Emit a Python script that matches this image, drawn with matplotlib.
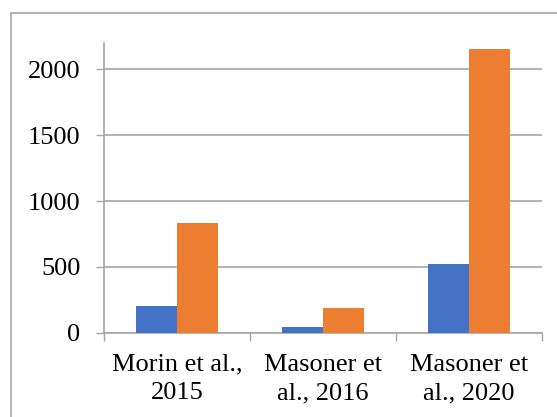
import matplotlib
matplotlib.use("Agg")
import matplotlib.pyplot as plt
from matplotlib.patches import Rectangle
import numpy as np

plt.rcParams['font.family'] = ['Liberation Serif', 'DejaVu Serif']

# Data
studies = ["Morin et al.,\n2015", "Masoner et\nal., 2016", "Masoner et\nal., 2020"]
series_blue = [203, 46, 518]
series_orange = [835, 190, 2153]

blue = "#4472C4"
orange = "#ED7D31"
grey = "#A6A6A6"

fig = plt.figure(figsize=(5.57, 4.17), dpi=100)
ax = fig.add_axes([0.1867, 0.2022, 0.973 - 0.1867, 0.8969 - 0.2022])

x = np.arange(len(studies))
w = 0.284
ax.bar(x - w / 2, series_blue, width=w, color=blue, zorder=3)
ax.bar(x + w / 2, series_orange, width=w, color=orange, zorder=3)

ax.set_xlim(-0.5, len(studies) - 0.5)
ax.set_ylim(0, 2200)
ax.set_yticks([0, 500, 1000, 1500, 2000])
ax.yaxis.grid(True, color=grey, linewidth=1.2, zorder=0)

ax.set_xticks(x)
ax.set_xticklabels(studies, fontsize=19, linespacing=1.38)
ax.set_xticks(np.arange(len(studies) + 1) - 0.5, minor=True)
ax.tick_params(axis='x', which='major', length=0, pad=15)
ax.tick_params(axis='x', which='minor', length=5.5, width=1, color=grey)
ax.tick_params(axis='y', length=5.5, width=1, color=grey, pad=11.5, labelsize=19)

for side in ['top', 'right']:
    ax.spines[side].set_visible(False)
for side in ['left', 'bottom']:
    ax.spines[side].set_color(grey)
    ax.spines[side].set_linewidth(1.2)

# chart area border (cropped on the right and bottom)
fig.patches.append(Rectangle((11 / 557, -0.2), 1.2, 0.2 + 1 - 13 / 417,
                             transform=fig.transFigure, fill=False,
                             edgecolor=grey, linewidth=1.2))

fig.savefig("out.png", dpi=100)
